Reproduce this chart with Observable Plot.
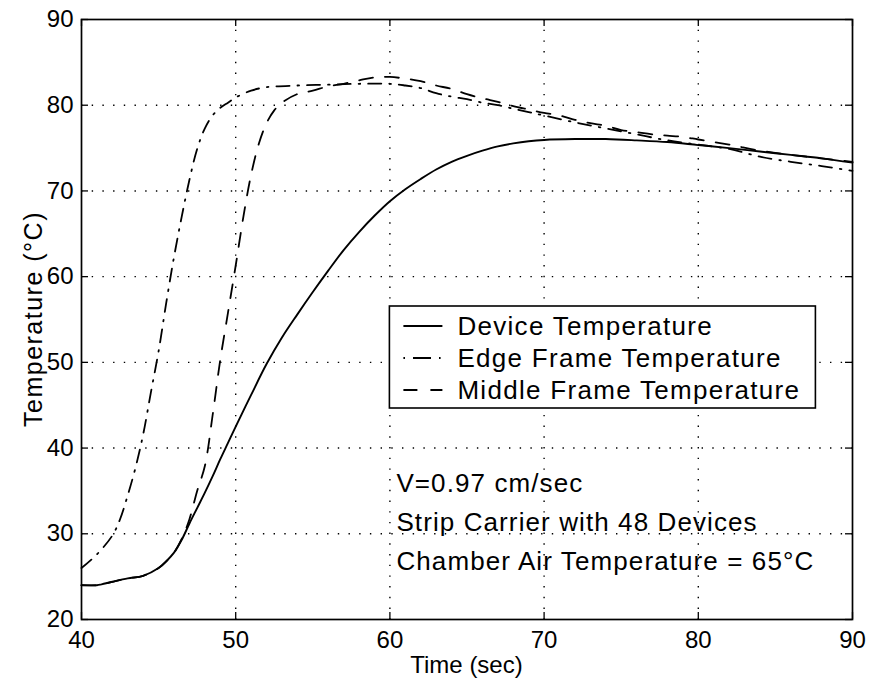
<!DOCTYPE html>
<html>
<head>
<meta charset="utf-8">
<script src="https://cdn.jsdelivr.net/npm/d3@7"></script>
<script src="https://cdn.jsdelivr.net/npm/@observablehq/plot@0.6"></script>
<style>
  body { margin: 0; background: #fff; }
  #chart { width: 870px; height: 688px; }
</style>
</head>
<body>
<div id="chart"></div>
<script>
// Axis ticks
const xTicks = [40, 50, 60, 70, 80, 90];
const yTicks = [20, 30, 40, 50, 60, 70, 80, 90];

// Device temperature (solid)
const deviceTime = [40, 41, 41.3, 42, 43, 44, 45, 45.5, 46, 46.5, 47, 47.5, 48, 48.5, 49, 49.5, 50,
  51, 52, 53, 54, 55, 56, 57, 58, 59, 60, 61, 62, 63, 64, 65, 66, 67, 68, 69, 70, 72, 74, 76, 78, 80,
  82, 84, 86, 88, 90];
const deviceTemp = [24.0, 24.0, 24.1, 24.4, 24.8, 25.1, 26.0, 26.8, 27.8, 29.3, 31.2, 33.0, 34.8, 36.7, 38.7, 40.6, 42.5,
  46.2, 49.8, 52.9, 55.6, 58.2, 60.7, 63.1, 65.2, 67.1, 68.8, 70.2, 71.4, 72.5, 73.4, 74.1, 74.7, 75.2, 75.55, 75.8, 75.95, 76.05, 76.05, 75.9, 75.7, 75.35,
  75.0, 74.6, 74.2, 73.8, 73.3];

// Edge frame temperature (dash-dot)
const edgeTime = [40, 41, 42, 42.5, 43, 43.5, 44, 44.5, 45, 45.5, 46, 46.5, 47, 47.5, 48, 48.5, 49, 49.5, 50,
  51, 52, 54, 56, 58, 60, 61, 62, 63, 64, 65, 66, 67, 68, 69, 70, 72, 74, 76, 78, 80, 82, 84, 86, 88, 90];
const edgeTemp = [26.0, 27.6, 29.8, 31.7, 34.5, 37.7, 41.6, 46.5, 51.3, 57.0, 62.3, 67.0, 71.3, 74.9, 77.3, 78.8, 79.7, 80.3, 80.9,
  81.7, 82.1, 82.3, 82.4, 82.5, 82.5, 82.3, 82.0, 81.4, 81.0, 80.7, 80.3, 80.0, 79.6, 79.2, 78.8, 78.0, 77.3, 76.6, 75.9, 75.4, 74.9, 74.0, 73.4, 72.9, 72.35];

// Middle frame temperature (dashed)
const middleTime = [40, 41, 41.3, 42, 43, 44, 45, 45.5, 46, 46.5, 47, 47.5, 48, 48.5, 49, 49.5, 50, 50.5, 51, 51.5, 52, 52.5, 53,
  54, 55, 56, 57, 58, 59, 60, 61, 62, 63, 64, 65, 66, 67, 68, 69, 70, 71, 72, 73, 74, 75, 76, 77, 78, 79, 80,
  82, 84, 86, 88, 90];
const middleTemp = [24.0, 24.0, 24.1, 24.4, 24.8, 25.1, 26.0, 26.8, 27.8, 29.4, 31.7, 35.0, 37.9, 43.8, 50.3, 55.8, 61.3, 67.0, 71.9, 75.5, 77.9, 79.4, 80.3,
  81.3, 81.7, 82.2, 82.5, 82.9, 83.25, 83.3, 83.1, 82.8, 82.3, 81.9, 81.3, 80.8, 80.4, 79.9, 79.5, 79.1, 78.8, 78.3, 77.9, 77.6, 77.1, 76.85, 76.6, 76.45, 76.3, 76.0,
  75.4, 74.7, 74.2, 73.8, 73.4];

const seriesNames = ["Device Temperature", "Edge Frame Temperature", "Middle Frame Temperature"];
const notes = ["V=0.97 cm/sec", "Strip Carrier with 48 Devices", "Chamber Air Temperature = 65\u00B0C"];

// Line styles
const dashDot = "13,8,1.6,8";
const dashed = "14,12";

const W = 870, H = 688;
const mL = 81, mR = 18, mT = 19, mB = 69;
const innerW = W - mL - mR, innerH = H - mT - mB;
const font = "'Liberation Sans', Arial, Helvetica, sans-serif";

const rows = (t, v) => t.map((x, i) => ({t: x, v: v[i]}));

const grid = {stroke: "#000", strokeOpacity: 1, strokeWidth: 1.4, strokeDasharray: "1.4,9.3"};
const tickLen = 7;

const plot = Plot.plot({
  width: W,
  height: H,
  marginLeft: mL,
  marginRight: mR,
  marginTop: mT,
  marginBottom: mB,
  style: {fontFamily: font, background: "#fff", color: "#000"},
  x: {domain: [40, 90]},
  y: {domain: [20, 90]},
  marks: [
    Plot.gridX(xTicks.slice(1, -1), grid),
    Plot.gridY(yTicks.slice(1, -1), grid),
    // inward ticks on all four sides
    Plot.tickX(xTicks, {x: d => d, insetTop: innerH - tickLen, stroke: "#000", strokeWidth: 1.3}),
    Plot.tickX(xTicks, {x: d => d, insetBottom: innerH - tickLen, stroke: "#000", strokeWidth: 1.3}),
    Plot.tickY(yTicks, {y: d => d, insetRight: innerW - tickLen, stroke: "#000", strokeWidth: 1.3}),
    Plot.tickY(yTicks, {y: d => d, insetLeft: innerW - tickLen, stroke: "#000", strokeWidth: 1.3}),
    Plot.axisX(xTicks, {tickSize: 0, tickPadding: 11, fontSize: 24, label: null}),
    Plot.axisY(yTicks, {tickSize: 0, tickPadding: 8, fontSize: 24, label: null}),
    Plot.line(rows(edgeTime, edgeTemp), {x: "t", y: "v", stroke: "#000", strokeWidth: 1.8, strokeDasharray: dashDot, curve: "catmull-rom"}),
    Plot.line(rows(middleTime, middleTemp), {x: "t", y: "v", stroke: "#000", strokeWidth: 1.8, strokeDasharray: dashed, curve: "catmull-rom"}),
    Plot.line(rows(deviceTime, deviceTemp), {x: "t", y: "v", stroke: "#000", strokeWidth: 1.9, curve: "catmull-rom"}),
    Plot.frame({stroke: "#000", strokeWidth: 1.7})
  ]
});

document.getElementById("chart").appendChild(plot);

const svg = d3.select(plot);
const xs = plot.scale("x");

// Axis titles
svg.append("text")
  .attr("x", (mL + W - mR) / 2).attr("y", 673)
  .attr("text-anchor", "middle")
  .attr("font-family", font).attr("font-size", 24)
  .text("Time (sec)");
svg.append("text")
  .attr("transform", `translate(42,${mT + innerH / 2}) rotate(-90)`)
  .attr("text-anchor", "middle")
  .attr("font-family", font).attr("font-size", 25).attr("letter-spacing", 1.5)
  .text("Temperature (\u00B0C)");

// Legend box
const lg = svg.append("g");
const boxX = xs.apply(60), boxY = 306, boxW = 426, boxH = 102;
lg.append("rect")
  .attr("x", boxX).attr("y", boxY).attr("width", boxW).attr("height", boxH)
  .attr("fill", "#fff").attr("stroke", "#000").attr("stroke-width", 1.6);
const legendDash = [null, "1.6,8,18,8,1.6,20", "14,13"];
seriesNames.forEach((name, i) => {
  const cy = 326 + i * 32;
  lg.append("line")
    .attr("x1", boxX + 14).attr("x2", boxX + 53)
    .attr("y1", cy).attr("y2", cy)
    .attr("stroke", "#000").attr("stroke-width", 1.8)
    .attr("stroke-dasharray", legendDash[i]);
  lg.append("text")
    .attr("x", boxX + 68).attr("y", cy + 9)
    .attr("text-anchor", "start")
    .attr("font-family", font).attr("font-size", 26).attr("letter-spacing", 1.3)
    .text(name);
});

// Test conditions
notes.forEach((s, i) => {
  svg.append("text")
    .attr("x", xs.apply(60) + 7).attr("y", 492 + i * 39)
    .attr("text-anchor", "start")
    .attr("font-family", font).attr("font-size", 26).attr("letter-spacing", 1.1)
    .text(s);
});
</script>
</body>
</html>
